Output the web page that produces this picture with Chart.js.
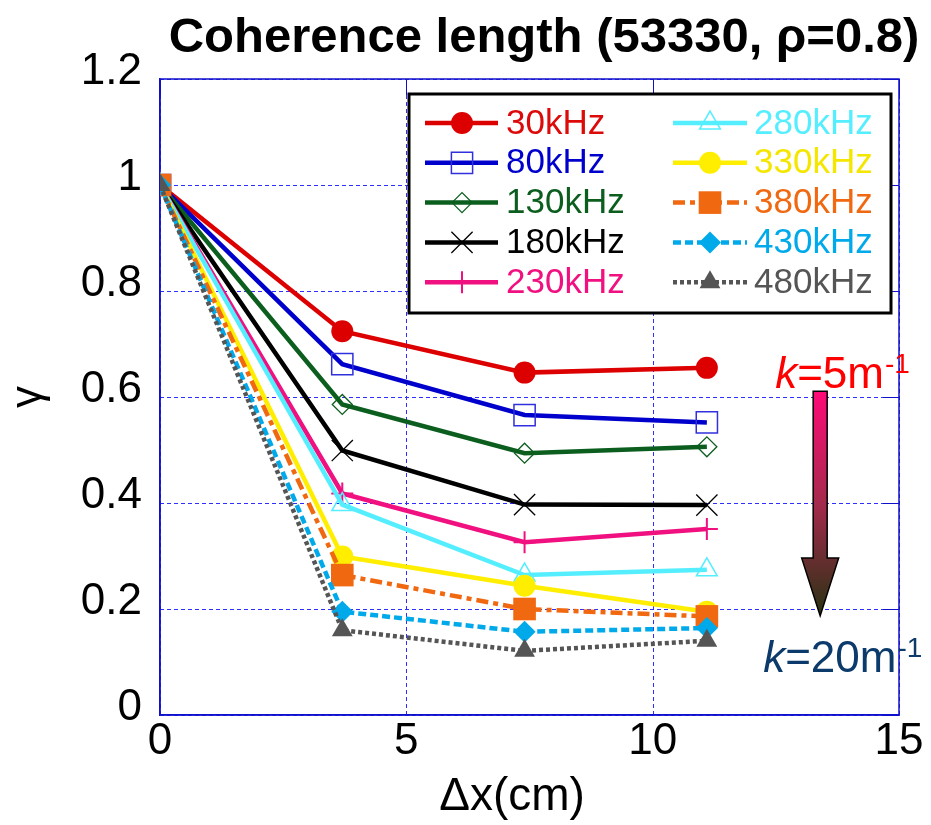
<!DOCTYPE html>
<html>
<head>
<meta charset="utf-8">
<script src="https://cdn.jsdelivr.net/npm/chart.js@4"></script>
<style>
  html, body { margin: 0; padding: 0; background: #ffffff; }
  #c { display: block; }
</style>
</head>
<body>
<canvas id="c" width="931" height="825"></canvas>
<script>
// ---------- data ----------
const xValues = [0, 3.7, 7.4, 11.1];
const seriesLabels = ['30kHz', '80kHz', '130kHz', '180kHz', '230kHz', '280kHz', '330kHz', '380kHz', '430kHz', '480kHz'];
const g30  = [1, 0.724, 0.646, 0.655];
const g80  = [1, 0.662, 0.566, 0.552];
const g130 = [1, 0.586, 0.494, 0.506];
const g180 = [1, 0.499, 0.397, 0.396];
const g230 = [1, 0.418, 0.326, 0.351];
const g280 = [1, 0.397, 0.264, 0.274];
const g330 = [1, 0.299, 0.244, 0.195];
const g380 = [1, 0.264, 0.200, 0.186];
const g430 = [1, 0.195, 0.157, 0.164];
const g480 = [1, 0.160, 0.121, 0.140];
const seriesValues = [g30, g80, g130, g180, g230, g280, g330, g380, g430, g480];
const xTickLabels = ['0', '5', '10', '15'];
const yTickLabels = ['0', '0.2', '0.4', '0.6', '0.8', '1', '1.2'];
const titleText = 'Coherence length (53330, \u03C1=0.8)';
const xTitle = '\u0394x(cm)';
const yTitle = '\u03B3';

// ---------- styles ----------
const FONT = 'Arial, "Liberation Sans", Helvetica, sans-serif';
const TRANSPARENT = 'rgba(0,0,0,0)';
const GRID_BLUE = '#2e2eff';
const styles = [
  {color: '#dd0000', text: '#dd0a0a', dash: [], style: 'circle',   r: 11, fill: true,  pbw: 0},
  {color: '#0000cc', text: '#0000cc', dash: [], style: 'rect',     r: 15, fill: false, pbw: 1.5, pcolor: '#3030dd'},
  {color: '#0b5e1e', text: '#0b5e1e', dash: [], style: 'rectRot',  r: 10, fill: false, pbw: 1.3},
  {color: '#000000', text: '#000000', dash: [], style: 'crossRot', r: 15, fill: false, pbw: 1.3},
  {color: '#f01080', text: '#f01080', dash: [], style: 'cross',    r: 11, fill: false, pbw: 2},
  {color: '#55eeff', text: '#55eeff', dash: [], style: 'triangle', r: 12, fill: false, pbw: 1.5},
  {color: '#ffee00', text: '#f5e600', dash: [], style: 'circle',   r: 11, fill: true,  pbw: 0},
  {color: '#f06810', text: '#f06810', dash: [12, 5, 5, 5], style: 'rect', r: 16, fill: true, pbw: 0},
  {color: '#00aaea', text: '#00aaea', dash: [8, 4], style: 'rectRot', r: 11, fill: true, pbw: 0},
  {color: '#555555', text: '#555555', dash: [4, 3], style: 'triangle', r: 12, fill: true, pbw: 0}
];

const datasets = seriesValues.map((vals, i) => {
  const s = styles[i];
  return {
    label: seriesLabels[i],
    data: vals.map((v, j) => ({x: xValues[j], y: v})),
    borderColor: s.color,
    backgroundColor: s.color,
    borderWidth: 4.5,
    borderDash: s.dash,
    tension: 0,
    fill: false,
    pointStyle: s.style,
    pointRadius: s.r,
    pointHoverRadius: s.r,
    pointBackgroundColor: s.fill ? s.color : TRANSPARENT,
    pointBorderColor: s.pcolor || s.color,
    pointBorderWidth: s.pbw,
    order: 20 - i
  };
});

// ---------- plugins ----------
const framePlugin = {
  id: 'frame',
  beforeDatasetsDraw(chart) {
    const {ctx, chartArea: a, scales: {x, y}} = chart;
    ctx.save();
    // dashed grid lines from the scales' ticks
    ctx.strokeStyle = GRID_BLUE;
    ctx.lineWidth = 1;
    ctx.setLineDash([4, 3]);
    ctx.beginPath();
    y.ticks.forEach(t => {
      const py = Math.round(y.getPixelForValue(t.value)) + 0.5;
      ctx.moveTo(a.left, py); ctx.lineTo(a.right, py);
    });
    x.ticks.forEach(t => {
      const px = Math.round(x.getPixelForValue(t.value)) + 0.5;
      ctx.moveTo(px, a.bottom); ctx.lineTo(px, a.top);
    });
    ctx.stroke();
    // frame
    ctx.setLineDash([]);
    ctx.strokeStyle = '#1010cc';
    ctx.lineWidth = 1.5;
    ctx.strokeRect(a.left, a.top, a.right - a.left, a.bottom - a.top);
    // inner ticks on right and top
    ctx.lineWidth = 1;
    ctx.beginPath();
    y.ticks.forEach(t => {
      const py = Math.round(y.getPixelForValue(t.value)) + 0.5;
      ctx.moveTo(a.right - 16, py); ctx.lineTo(a.right, py);
    });
    x.ticks.forEach(t => {
      const px = Math.round(x.getPixelForValue(t.value)) + 0.5;
      ctx.moveTo(px, a.top); ctx.lineTo(px, a.top + 16);
    });
    ctx.stroke();
    ctx.restore();
  }
};

const titlePlugin = {
  id: 'bigTitle',
  afterDraw(chart) {
    const {ctx} = chart;
    ctx.save();
    ctx.fillStyle = '#000';
    ctx.textAlign = 'center';
    ctx.textBaseline = 'alphabetic';
    ctx.font = 'bold 49px ' + FONT;
    ctx.fillText(titleText, 544, 52);
    ctx.font = '46px ' + FONT;
    ctx.textBaseline = 'middle';
    ctx.fillText(xTitle, 512, 797);
    ctx.restore();
  }
};

function drawMarker(ctx, s, px, py) {
  ctx.save();
  ctx.setLineDash([]);
  ctx.fillStyle = s.fill ? s.color : TRANSPARENT;
  ctx.strokeStyle = s.pcolor || s.color;
  ctx.lineWidth = s.pbw;
  if (Chart.helpers && Chart.helpers.drawPoint) {
    Chart.helpers.drawPoint(ctx, {pointStyle: s.style, radius: s.r, rotation: 0, borderWidth: s.pbw}, px, py);
  }
  ctx.restore();
}

const legendPlugin = {
  id: 'boxLegend',
  afterDraw(chart) {
    const {ctx, chartArea: a} = chart;
    const left = a.left + 249, top = a.top + 15, w = 482, h = 219;
    ctx.save();
    ctx.fillStyle = '#ffffff';
    ctx.fillRect(left, top, w, h);
    ctx.strokeStyle = '#000';
    ctx.lineWidth = 3;
    ctx.setLineDash([]);
    ctx.strokeRect(left, top, w, h);
    const cols = [{l0: 16, l1: 89, m: 53, t: 97}, {l0: 264, l1: 338, m: 301, t: 345}];
    datasets.forEach((ds, i) => {
      const s = styles[i];
      const c = cols[Math.floor(i / 5)];
      const ry = top + 29 + (i % 5) * 39.8;
      ctx.save();
      ctx.strokeStyle = s.color;
      ctx.lineWidth = 4.5;
      ctx.setLineDash(s.dash);
      ctx.beginPath();
      ctx.moveTo(left + c.l0, ry);
      ctx.lineTo(left + c.l1, ry);
      ctx.stroke();
      ctx.restore();
      drawMarker(ctx, s, left + c.m, ry);
      ctx.font = '35px ' + FONT;
      ctx.fillStyle = s.text;
      ctx.textAlign = 'left';
      ctx.textBaseline = 'middle';
      ctx.fillText(ds.label, left + c.t, ry + 1);
    });
    ctx.restore();
  }
};

const arrowPlugin = {
  id: 'kArrow',
  afterDraw(chart) {
    const {ctx, scales: {x, y}} = chart;
    const ax = x.getPixelForValue(13.4);
    const yTop = y.getPixelForValue(0.611);
    const yHead = y.getPixelForValue(0.296);
    const yTip = y.getPixelForValue(0.187);
    ctx.save();
    const g = ctx.createLinearGradient(0, yTop, 0, yTip);
    g.addColorStop(0, '#ff0a78');
    g.addColorStop(0.5, '#a42a4c');
    g.addColorStop(1, '#283212');
    ctx.beginPath();
    ctx.moveTo(ax - 7, yTop);
    ctx.lineTo(ax + 7, yTop);
    ctx.lineTo(ax + 7, yHead);
    ctx.lineTo(ax + 18.5, yHead);
    ctx.lineTo(ax, yTip);
    ctx.lineTo(ax - 18.5, yHead);
    ctx.lineTo(ax - 7, yHead);
    ctx.closePath();
    ctx.fillStyle = g;
    ctx.fill();
    ctx.strokeStyle = '#000';
    ctx.lineWidth = 1.5;
    ctx.stroke();

    function kText(x0, base, color) {
      ctx.fillStyle = color;
      ctx.textAlign = 'left';
      ctx.textBaseline = 'alphabetic';
      ctx.font = 'italic 44px ' + FONT;
      ctx.fillText('k', x0, base);
      return x0 + ctx.measureText('k').width;
    }
    function rest(cx, base, main, color) {
      ctx.fillStyle = color;
      ctx.font = '44px ' + FONT;
      ctx.fillText(main, cx, base);
      cx += ctx.measureText(main).width + 1;
      ctx.font = '28px ' + FONT;
      ctx.fillText('-1', cx, base - 15);
    }
    let cx = kText(ax - 45, yTop - 3, '#ff0000');
    rest(cx, yTop - 3, '=5m', '#ff0000');
    cx = kText(ax - 57, yTip + 56, '#0b3a6b');
    rest(cx, yTip + 56, '=20m', '#0b3a6b');
    ctx.restore();
  }
};

// ---------- chart ----------
new Chart(document.getElementById('c'), {
  type: 'line',
  data: {datasets},
  options: {
    responsive: false,
    animation: false,
    devicePixelRatio: 1,
    layout: {padding: {left: 0, right: 32, top: 79, bottom: 0}},
    plugins: {legend: {display: false}, title: {display: false}, tooltip: {enabled: false}},
    scales: {
      x: {
        type: 'linear',
        min: 0, max: 15,
        afterFit(s) { s.height = 110; },
        ticks: {
          stepSize: 5,
          padding: 0,
          color: '#000',
          font: {family: FONT, size: 44},
          callback: (v, i) => xTickLabels[i]
        },
        grid: {display: false, drawTicks: false},
        border: {display: true, color: '#1010cc', width: 1.5},
        title: {display: false, text: xTitle}
      },
      y: {
        type: 'linear',
        min: 0, max: 1.2,
        afterFit(s) { s.width = 160; },
        ticks: {
          stepSize: 0.2,
          padding: 18,
          labelOffset: -7,
          color: '#000',
          font: {family: FONT, size: 44},
          callback: (v, i) => yTickLabels[i]
        },
        grid: {display: false, drawTicks: false},
        border: {display: true, color: '#1010cc', width: 1.5},
        title: {display: true, text: yTitle, color: '#000', font: {family: FONT, size: 44}, padding: {top: 2, bottom: 0}}
      }
    }
  },
  plugins: [framePlugin, legendPlugin, arrowPlugin, titlePlugin]
});
</script>
</body>
</html>
